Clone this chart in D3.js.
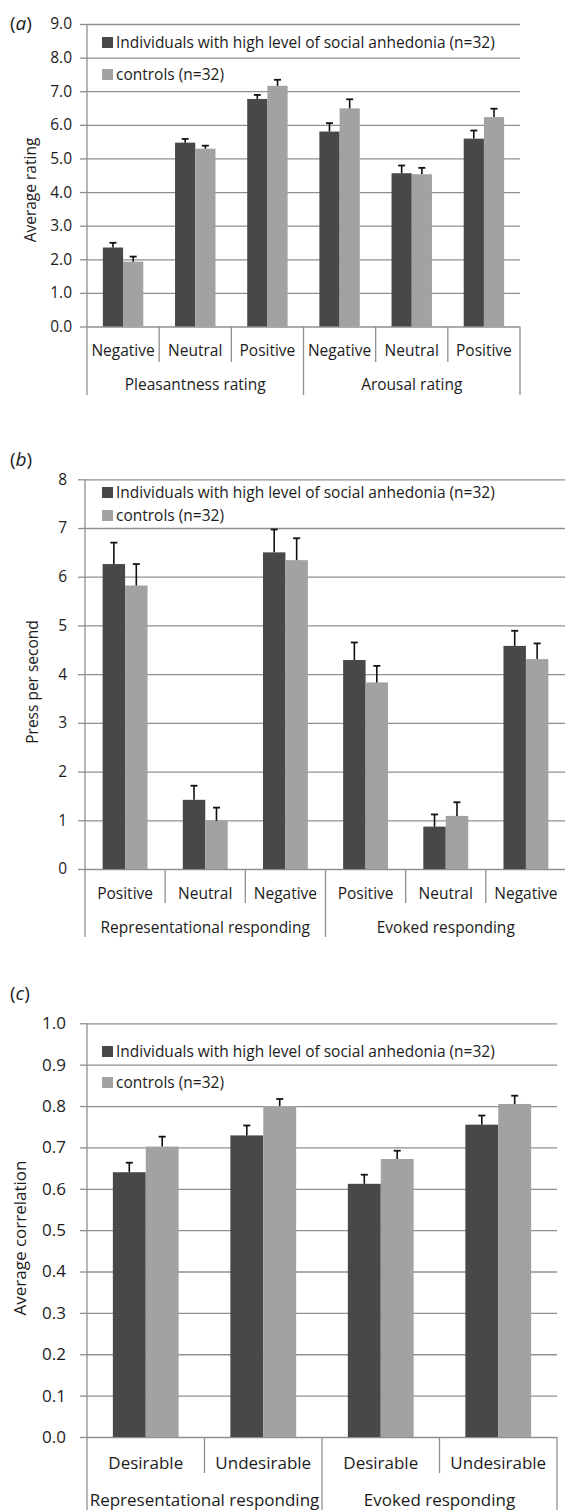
<!DOCTYPE html>
<html>
<head>
<meta charset="utf-8">
<script src="https://d3js.org/d3.v7.min.js"></script>
<style>
  body { margin: 0; background: #fff; }
  svg text { font-family: 'Open Sans', sans-serif; fill: #1c1c1c; }
</style>
</head>
<body>
<svg id="chart" width="565" height="1510"></svg>
<script>
// legend / series
const seriesNames = ['Individuals with high level of social anhedonia (n=32)', 'controls (n=32)'];
const seriesColors = ['#484848', '#a2a2a2'];

// panel (a)
const aCategories = ['Negative', 'Neutral', 'Positive', 'Negative', 'Neutral', 'Positive'];
const aGroups = ['Pleasantness rating', 'Arousal rating'];
const aHigh = [2.35, 5.47, 6.77, 5.80, 4.56, 5.59];
const aHighErr = [0.14, 0.11, 0.12, 0.25, 0.23, 0.24];
const aCtrl = [1.93, 5.29, 7.16, 6.49, 4.53, 6.23];
const aCtrlErr = [0.15, 0.09, 0.18, 0.27, 0.19, 0.25];
const aTicks = [0, 1, 2, 3, 4, 5, 6, 7, 8, 9];

// panel (b)
const bCategories = ['Positive', 'Neutral', 'Negative', 'Positive', 'Neutral', 'Negative'];
const bGroups = ['Representational responding', 'Evoked responding'];
const bHigh = [6.26, 1.42, 6.50, 4.29, 0.87, 4.58];
const bHighErr = [0.44, 0.29, 0.47, 0.36, 0.25, 0.31];
const bCtrl = [5.82, 0.99, 6.34, 3.83, 1.09, 4.31];
const bCtrlErr = [0.44, 0.27, 0.45, 0.34, 0.28, 0.32];
const bTicks = [0, 1, 2, 3, 4, 5, 6, 7, 8];

// panel (c)
const cCategories = ['Desirable', 'Undesirable', 'Desirable', 'Undesirable'];
const cGroups = ['Representational responding', 'Evoked responding'];
const cHigh = [0.640, 0.729, 0.612, 0.755];
const cHighErr = [0.023, 0.024, 0.022, 0.022];
const cCtrl = [0.702, 0.800, 0.672, 0.805];
const cCtrlErr = [0.024, 0.017, 0.020, 0.020];
const cTicks = [0, 0.1, 0.2, 0.3, 0.4, 0.5, 0.6, 0.7, 0.8, 0.9, 1.0];

const svg = d3.select('#chart');
const gridColor = '#8f8f8f';

function drawPanel(p) {
  const g = svg.append('g');
  const n = p.categories.length;
  const x = d3.scaleBand().domain(d3.range(n)).range([p.left, p.right])
    .paddingInner(0.44).paddingOuter(0.22);
  const xs = d3.scaleBand().domain([0, 1]).range([0, x.bandwidth()]);
  const y = d3.scaleLinear().domain([p.ticks[0], p.ticks[p.ticks.length - 1]])
    .range([p.bottom, p.top]);

  // gridlines
  g.append('g')
    .attr('transform', `translate(${p.left},0)`)
    .call(d3.axisLeft(y).tickValues(p.ticks).tickSize(-(p.right - p.left)).tickFormat(''))
    .call(s => s.select('.domain').remove())
    .call(s => s.selectAll('line').attr('stroke', gridColor).attr('stroke-width', 1.3));

  // y ticks + labels
  g.append('g')
    .attr('transform', `translate(${p.left},0)`)
    .call(d3.axisLeft(y).tickValues(p.ticks).tickSize(7).tickSizeOuter(0)
      .tickPadding(p.tickPad).tickFormat(d3.format(p.fmt)))
    .call(s => s.select('.domain').remove())
    .call(s => s.selectAll('line').attr('stroke', gridColor).attr('stroke-width', 1.3))
    .call(s => s.selectAll('text').attr('font-size', p.font).attr('fill', '#1c1c1c')
      .style('font-family', "'Open Sans', sans-serif"));

  // category boundaries below the axis
  const half = (x.step() - x.bandwidth()) / 2;
  const edges = d3.range(n + 1).map(i => i < n ? x(i) - half : x(n - 1) + x.bandwidth() + half);
  g.selectAll('line.sep').data(edges).join('line')
    .attr('class', 'sep')
    .attr('x1', d => d).attr('x2', d => d)
    .attr('y1', (d, i) => i === 0 ? p.top : p.bottom)
    .attr('y2', (d, i) => p.groupEdges.includes(i) ? p.groupBottom : p.catBottom)
    .attr('stroke', gridColor).attr('stroke-width', 1.3);

  // bars
  const series = [
    { vals: p.high, errs: p.highErr, color: seriesColors[0] },
    { vals: p.ctrl, errs: p.ctrlErr, color: seriesColors[1] }
  ];
  series.forEach((s, k) => {
    const bx = i => x(i) + xs(k);
    g.selectAll(null).data(s.vals).join('rect')
      .attr('x', (d, i) => bx(i)).attr('width', xs.bandwidth())
      .attr('y', d => y(d)).attr('height', d => y(0) - y(d))
      .attr('fill', s.color);
    const cx = i => bx(i) + xs.bandwidth() / 2;
    g.selectAll(null).data(s.vals).join('line')
      .attr('x1', (d, i) => cx(i)).attr('x2', (d, i) => cx(i))
      .attr('y1', d => y(d)).attr('y2', (d, i) => y(d + s.errs[i]))
      .attr('stroke', '#111').attr('stroke-width', 1.6);
    g.selectAll(null).data(s.vals).join('line')
      .attr('x1', (d, i) => cx(i) - 3.5).attr('x2', (d, i) => cx(i) + 3.5)
      .attr('y1', (d, i) => y(d + s.errs[i])).attr('y2', (d, i) => y(d + s.errs[i]))
      .attr('stroke', '#111').attr('stroke-width', 1.8);
  });

  // category labels
  g.selectAll(null).data(p.categories).join('text')
    .attr('x', (d, i) => x(i) + x.bandwidth() / 2)
    .attr('y', p.catY)
    .attr('text-anchor', 'middle')
    .attr('font-size', p.font)
    .text(d => d);

  // group labels
  const gsz = n / p.groups.length;
  g.selectAll(null).data(p.groups).join('text')
    .attr('x', (d, i) => (edges[i * gsz] + edges[(i + 1) * gsz]) / 2)
    .attr('y', p.groupY)
    .attr('text-anchor', 'middle')
    .attr('font-size', p.font)
    .text(d => d);

  // legend
  seriesNames.forEach((name, k) => {
    g.append('rect')
      .attr('x', 102).attr('y', p.legendY[k] - 11)
      .attr('width', 11).attr('height', 11)
      .attr('fill', seriesColors[k]);
    g.append('text')
      .attr('x', 116).attr('y', p.legendY[k])
      .attr('font-size', p.legendFont)
      .text(name);
  });

  // y title
  g.append('text')
    .attr('transform', `translate(${p.titleX},${p.titleY}) rotate(-90)`)
    .attr('text-anchor', 'middle')
    .attr('font-size', p.font)
    .text(p.title);

  // panel letter
  const lab = g.append('text').attr('x', 10).attr('y', p.letterY).attr('font-size', 19);
  lab.append('tspan').text('(');
  lab.append('tspan').attr('font-style', 'italic').text(p.letter);
  lab.append('tspan').text(')');
}

drawPanel({
  letter: 'a', letterY: 30,
  categories: aCategories, groups: aGroups,
  high: aHigh, highErr: aHighErr, ctrl: aCtrl, ctrlErr: aCtrlErr,
  ticks: aTicks, fmt: '.1f', tickPad: 8,
  left: 87, right: 520, top: 24, bottom: 326.5,
  catBottom: 362, groupBottom: 395, groupEdges: [0, 3, 6],
  catY: 356, groupY: 390,
  legendY: [48, 80],
  title: 'Average rating', titleX: 36, titleY: 190,
  font: 15.5, legendFont: 15.5
});

drawPanel({
  letter: 'b', letterY: 466,
  categories: bCategories, groups: bGroups,
  high: bHigh, highErr: bHighErr, ctrl: bCtrl, ctrlErr: bCtrlErr,
  ticks: bTicks, fmt: 'd', tickPad: 11,
  left: 85, right: 566, top: 479.3, bottom: 869,
  catBottom: 903, groupBottom: 937, groupEdges: [0, 3, 6],
  catY: 899, groupY: 933,
  legendY: [498, 521],
  title: 'Press per second', titleX: 38, titleY: 682,
  font: 15.5, legendFont: 15.5
});

drawPanel({
  letter: 'c', letterY: 1000,
  categories: cCategories, groups: cGroups,
  high: cHigh, highErr: cHighErr, ctrl: cCtrl, ctrlErr: cCtrlErr,
  ticks: cTicks, fmt: '.1f', tickPad: 14,
  left: 87, right: 557, top: 1023.3, bottom: 1437,
  catBottom: 1473, groupBottom: 1515, groupEdges: [0, 2, 4],
  catY: 1469, groupY: 1506,
  legendY: [1057, 1088],
  title: 'Average  correlation', titleX: 26, titleY: 1238,
  font: 17, legendFont: 15.5
});
</script>
</body>
</html>
